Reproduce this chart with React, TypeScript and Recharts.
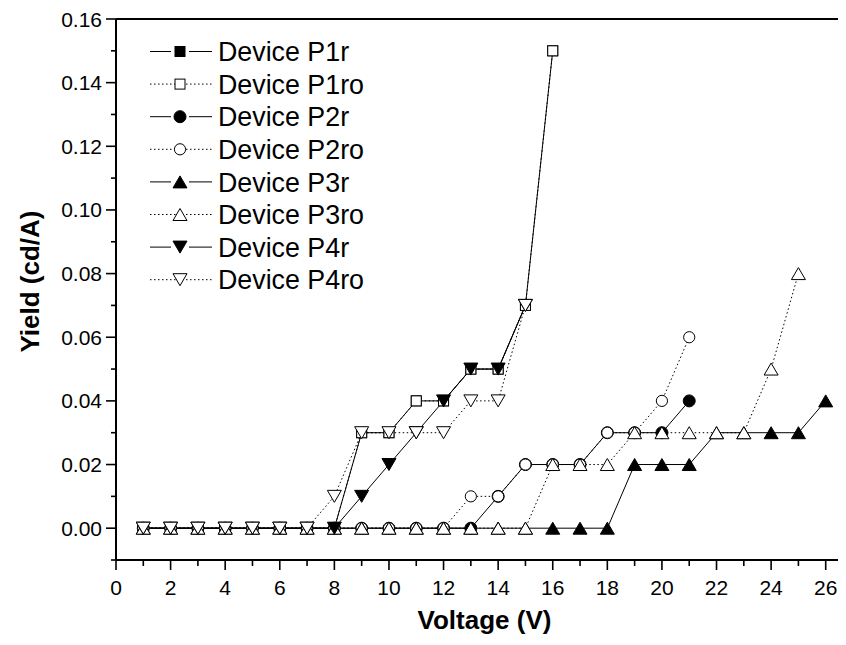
import React from 'react';
import { LineChart, Line, XAxis, YAxis, Legend } from 'recharts';

// ---- data ----
const voltage = [1, 2, 3, 4, 5, 6, 7, 8, 9, 10, 11, 12, 13, 14, 15, 16, 17, 18, 19, 20, 21, 22, 23, 24, 25, 26];

const p1r = [0, 0, 0, 0, 0, 0, 0, 0, 0.03, 0.03, 0.04, 0.04, 0.05, 0.05, 0.07, 0.15, null, null, null, null, null, null, null, null, null, null];
const p1ro = [0, 0, 0, 0, 0, 0, 0, 0, 0.03, 0.03, 0.04, 0.04, 0.05, 0.05, 0.07, 0.15, null, null, null, null, null, null, null, null, null, null];
const p2r = [0, 0, 0, 0, 0, 0, 0, 0, 0, 0, 0, 0, 0, 0.01, 0.02, 0.02, 0.02, 0.03, 0.03, 0.03, 0.04, null, null, null, null, null];
const p2ro = [0, 0, 0, 0, 0, 0, 0, 0, 0, 0, 0, 0, 0.01, 0.01, 0.02, 0.02, 0.02, 0.03, 0.03, 0.04, 0.06, null, null, null, null, null];
const p3r = [0, 0, 0, 0, 0, 0, 0, 0, 0, 0, 0, 0, 0, 0, 0, 0, 0, 0, 0.02, 0.02, 0.02, 0.03, 0.03, 0.03, 0.03, 0.04];
const p3ro = [0, 0, 0, 0, 0, 0, 0, 0, 0, 0, 0, 0, 0, 0, 0, 0.02, 0.02, 0.02, 0.03, 0.03, 0.03, 0.03, 0.03, 0.05, 0.08, null];
const p4r = [0, 0, 0, 0, 0, 0, 0, 0, 0.01, 0.02, 0.03, 0.04, 0.05, 0.05, 0.07, null, null, null, null, null, null, null, null, null, null, null];
const p4ro = [0, 0, 0, 0, 0, 0, 0, 0.01, 0.03, 0.03, 0.03, 0.03, 0.04, 0.04, 0.07, null, null, null, null, null, null, null, null, null, null, null];

const xTicks = [0, 1, 2, 3, 4, 5, 6, 7, 8, 9, 10, 11, 12, 13, 14, 15, 16, 17, 18, 19, 20, 21, 22, 23, 24, 25, 26];
const yTicks = [-0.01, 0, 0.01, 0.02, 0.03, 0.04, 0.05, 0.06, 0.07, 0.08, 0.09, 0.1, 0.11, 0.12, 0.13, 0.14, 0.15, 0.16];

type Shape = 'square' | 'circle' | 'up' | 'down';
interface SeriesDef { key: string; name: string; values: (number | null)[]; shape: Shape; filled: boolean; dotted: boolean; }

const series: SeriesDef[] = [
  { key: 'p1r', name: 'Device P1r', values: p1r, shape: 'square', filled: true, dotted: false },
  { key: 'p1ro', name: 'Device P1ro', values: p1ro, shape: 'square', filled: false, dotted: true },
  { key: 'p2r', name: 'Device P2r', values: p2r, shape: 'circle', filled: true, dotted: false },
  { key: 'p2ro', name: 'Device P2ro', values: p2ro, shape: 'circle', filled: false, dotted: true },
  { key: 'p3r', name: 'Device P3r', values: p3r, shape: 'up', filled: true, dotted: false },
  { key: 'p3ro', name: 'Device P3ro', values: p3ro, shape: 'up', filled: false, dotted: true },
  { key: 'p4r', name: 'Device P4r', values: p4r, shape: 'down', filled: true, dotted: false },
  { key: 'p4ro', name: 'Device P4ro', values: p4ro, shape: 'down', filled: false, dotted: true },
];

const data = voltage.map((v, i) => {
  const row: Record<string, number | null> = { v };
  series.forEach((s) => { row[s.key] = s.values[i]; });
  return row;
});

const FONT = '"Liberation Sans", Arial, Helvetica, sans-serif';

function Marker({ cx, cy, shape, filled }: { cx: number; cy: number; shape: Shape; filled: boolean }) {
  const fill = filled ? '#000' : '#fff';
  const common = { fill, stroke: '#000', strokeWidth: 1 };
  if (shape === 'square') return <rect x={cx - 5} y={cy - 5} width={10} height={10} {...common} />;
  if (shape === 'circle') return <circle cx={cx} cy={cy} r={filled ? 6 : 5.6} {...common} />;
  if (shape === 'up') return <polygon points={`${cx},${cy - 6} ${cx - 7},${cy + 6} ${cx + 7},${cy + 6}`} {...common} />;
  return <polygon points={`${cx},${cy + 6} ${cx - 7},${cy - 6} ${cx + 7},${cy - 6}`} {...common} />;
}

const XTick = (props: any) => {
  const { x, y, payload } = props;
  const major = Math.round(payload.value) % 2 === 0;
  return (
    <g>
      <line x1={x} x2={x} y1={y} y2={y + (major ? 10 : 6)} stroke="#000" strokeWidth={1.6} />
      {major && (
        <text x={x} y={y + 35} textAnchor="middle" fontSize={21} fontFamily={FONT} fill="#000">{payload.value}</text>
      )}
    </g>
  );
};

const YTick = (props: any) => {
  const { x, y, payload } = props;
  const major = Math.round(payload.value * 100) % 2 === 0;
  return (
    <g>
      <line x1={x - (major ? 10 : 5)} x2={x} y1={y} y2={y} stroke="#000" strokeWidth={1.6} />
      {major && (
        <text x={x - 14} y={y + 7.5} textAnchor="end" fontSize={21} fontFamily={FONT} fill="#000">{payload.value.toFixed(2)}</text>
      )}
    </g>
  );
};

const LegendContent = () => {
  const rowH = 32.6;
  return (
    <svg width={280} height={270} style={{ display: 'block' }}>
      {series.map((s, i) => {
        const cy = 17.5 + i * rowH;
        return (
          <g key={s.key}>
            {s.dotted ? (
              <line x1={10} x2={72} y1={cy} y2={cy} stroke="#000" strokeWidth={1} strokeDasharray="1.5 2.5" />
            ) : (
              <g>
                <line x1={10} x2={31} y1={cy} y2={cy} stroke="#000" strokeWidth={1} />
                <line x1={49} x2={72} y1={cy} y2={cy} stroke="#000" strokeWidth={1} />
              </g>
            )}
            <Marker cx={40} cy={cy} shape={s.shape} filled={s.filled} />
            <text x={78} y={cy + 9.6} fontSize={26.8} fontFamily={FONT} fill="#000">{s.name}</text>
          </g>
        );
      })}
    </svg>
  );
};

export default function App() {
  return (
    <div style={{ margin: '-8px 0 -8px -8px', width: 846, height: 645, overflow: 'hidden', position: 'relative', background: '#fff' }}>
      <LineChart width={870} height={645} data={data} margin={{ top: 19, right: 17, bottom: 55, left: 56 }}>
        <XAxis
          dataKey="v"
          type="number"
          domain={[0, 27]}
          ticks={xTicks}
          interval={0}
          tickSize={0}
          tickMargin={0}
          tickLine={false}
          tick={<XTick />}
          height={30}
          axisLine={{ stroke: '#000', strokeWidth: 2 }}
          label={{
            content: (p: any) => {
              const vb = p.viewBox || { x: 116, y: 560, width: 737 };
              return (
                <text x={vb.x + vb.width / 2} y={vb.y + 69} textAnchor="middle" fontSize={26} fontWeight="bold" fontFamily={FONT} fill="#000">Voltage (V)</text>
              );
            },
          }}
        />
        <XAxis
          xAxisId="top"
          orientation="top"
          mirror
          type="number"
          domain={[0, 27]}
          ticks={xTicks}
          interval={0}
          tickSize={3}
          tick={false}
          tickLine={{ stroke: '#000', strokeWidth: 1.5 }}
          axisLine={{ stroke: '#000', strokeWidth: 2 }}
        />
        <YAxis
          type="number"
          domain={[-0.01, 0.16]}
          ticks={yTicks}
          interval={0}
          width={60}
          tickSize={0}
          tickMargin={0}
          tickLine={false}
          tick={<YTick />}
          axisLine={{ stroke: '#000', strokeWidth: 2 }}
          allowDataOverflow
          label={{
            content: (p: any) => {
              const vb = p.viewBox || { x: 56, y: 19, width: 60, height: 541 };
              const cx = 30;
              const cy = vb.y + vb.height / 2 - 8;
              return (
                <text x={cx} y={cy} transform={`rotate(-90, ${cx}, ${cy})`} textAnchor="middle" dominantBaseline="central" fontSize={26} fontWeight="bold" fontFamily={FONT} fill="#000">Yield (cd/A)</text>
              );
            },
          }}
        />
        <Legend
          layout="vertical"
          align="center"
          verticalAlign="middle"
          content={<LegendContent />}
          wrapperStyle={{ left: 140, top: 34, width: 280, height: 270 }}
        />
        {series.map((s) => (
          <Line
            key={s.key}
            dataKey={s.key}
            name={s.name}
            type="linear"
            stroke="#000"
            strokeWidth={1}
            strokeDasharray={s.dotted ? '1.5 2.5' : undefined}
            isAnimationActive={false}
            activeDot={false}
            legendType="none"
            dot={(p: any) => {
              const k = `${s.key}-${p.index}`;
              if (p.value == null || p.cy == null || p.cx == null) return <g key={k} />;
              return <g key={k}><Marker cx={p.cx} cy={p.cy} shape={s.shape} filled={s.filled} /></g>;
            }}
          />
        ))}
      </LineChart>
    </div>
  );
}
